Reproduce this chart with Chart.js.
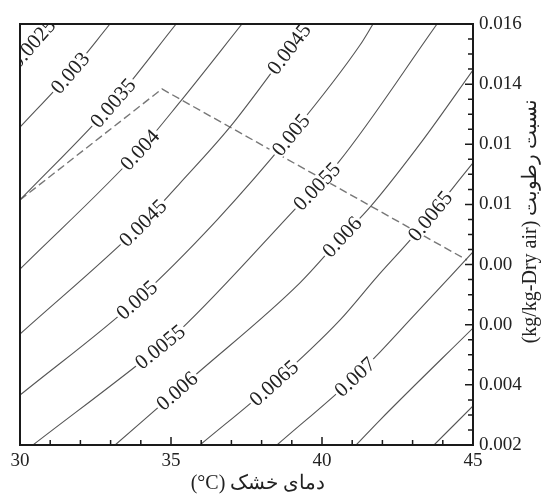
<!DOCTYPE html>
<html>
<head>
<meta charset="utf-8">
<script src="https://cdn.jsdelivr.net/npm/chart.js@4.4.1/dist/chart.umd.min.js"></script>
<style>
  html, body { margin: 0; padding: 0; background: #fff; }
  #wrap { width: 542px; height: 496px; }
</style>
</head>
<body>
<div id="wrap"><canvas id="psyChart"></canvas></div>
<script>
// contour levels, in the same order as the curves below
const levels = ['0.0025', '0.003', '0.0035', '0.004', '0.0045', '0.005', '0.0055', '0.006', '0.0065', '0.007', '0.0075', '0.008'];

// curves: [dry bulb (°C), humidity ratio]
const c0025 = [[30, 0.01487], [30.99, 0.016]];
const c003  = [[30, 0.01257], [31.66, 0.01437], [32.98, 0.016]];
const c0035 = [[30, 0.01015], [33.08, 0.01337], [35.17, 0.016]];
const c004  = [[30, 0.00785], [33.97, 0.01181], [35.30, 0.01341], [37.35, 0.016]];
const c0045 = [[30, 0.00569], [34.07, 0.00938], [35.30, 0.01071], [36.95, 0.01257], [38.91, 0.01517], [39.54, 0.016]];
const c005  = [[30, 0.00366], [33.87, 0.00682], [36.52, 0.00948], [38.97, 0.01231], [41.26, 0.0153], [41.69, 0.016]];
const c0055 = [[30.43, 0.002], [34.64, 0.00526], [35.30, 0.00582], [39.17, 0.00991], [40.53, 0.01138], [43.81, 0.016]];
const c006  = [[33.15, 0.002], [35.73, 0.00426], [39.27, 0.00739], [40.66, 0.00892], [41.59, 0.00991], [43.34, 0.01214], [45, 0.01447]];
const c0065 = [[35.96, 0.002], [38.41, 0.00406], [40.60, 0.00616], [41.82, 0.00759], [43.01, 0.00892], [45, 0.01138]];
const c007  = [[38.51, 0.002], [41.09, 0.00426], [41.92, 0.00509], [42.91, 0.00616], [45, 0.00842]];
const c0075 = [[41.13, 0.002], [41.92, 0.00283], [45, 0.00589]];
const c008  = [[43.71, 0.002], [45, 0.0033]];
const curves = [c0025, c003, c0035, c004, c0045, c005, c0055, c006, c0065, c007, c0075, c008];

// dashed process path
const dashedPath = [[30, 0.01015], [34.70, 0.01384], [44.8, 0.00815]];

// dry bulb value where each level label sits on its curve
const labelSpots = [
  ['0.0025', 30.42], ['0.003', 31.66], ['0.0035', 33.08], ['0.004', 33.97],
  ['0.0045', 34.07], ['0.0045', 38.91], ['0.005', 33.87], ['0.005', 38.97],
  ['0.0055', 34.64], ['0.0055', 39.83], ['0.006', 35.20], ['0.006', 40.66],
  ['0.0065', 38.41], ['0.0065', 43.58], ['0.007', 41.09]
];

// right axis tick labels as printed (bottom to top)
const yTickLabels = ['0.002', '0.004', '0.00', '0.00', '0.01', '0.01', '0.014', '0.016'];

const xTitle = 'دمای خشک (\u200E°C)';
const yTitle = 'نسبت رطوبت (kg/kg-Dry air)';

const serif = '"Liberation Serif", "Times New Roman", serif';

const toPts = arr => arr.map(p => ({ x: p[0], y: p[1] }));

const datasets = curves.map((c, i) => ({
  label: levels[i],
  data: toPts(c),
  borderColor: '#555',
  borderWidth: 1.1,
  pointRadius: 0,
  cubicInterpolationMode: 'monotone',
  fill: false
}));
datasets.push({
  label: 'path',
  data: toPts(dashedPath),
  borderColor: '#777',
  borderWidth: 1.4,
  borderDash: [8, 4],
  pointRadius: 0,
  tension: 0,
  fill: false
});

const bez = (p, t) => {
  const u = 1 - t;
  return u * u * u * p[0] + 3 * u * u * t * p[1] + 3 * u * t * t * p[2] + t * t * t * p[3];
};
const dbez = (p, t) => {
  const u = 1 - t;
  return 3 * u * u * (p[1] - p[0]) + 6 * u * t * (p[2] - p[1]) + 3 * t * t * (p[3] - p[2]);
};

// level labels written along the curves
const contourLabels = {
  id: 'contourLabels',
  afterDatasetsDraw(chart) {
    const { ctx, chartArea: a, scales: { x } } = chart;
    ctx.save();
    ctx.beginPath();
    ctx.rect(a.left, a.top, a.right - a.left, a.bottom - a.top);
    ctx.clip();
    ctx.font = '21px ' + serif;
    ctx.textAlign = 'center';
    ctx.textBaseline = 'middle';
    labelSpots.forEach(([lvl, vx]) => {
      const pts = chart.getDatasetMeta(levels.indexOf(lvl)).data;
      const px = x.getPixelForValue(vx);
      let i = 0;
      while (i < pts.length - 2 && pts[i + 1].x < px) i++;
      const p0 = pts[i], p1 = pts[i + 1];
      const X = [p0.x, p0.cp2x ?? p0.x, p1.cp1x ?? p1.x, p1.x];
      const Y = [p0.y, p0.cp2y ?? p0.y, p1.cp1y ?? p1.y, p1.y];
      let lo = 0, hi = 1;
      for (let k = 0; k < 40; k++) {
        const m = (lo + hi) / 2;
        if (bez(X, m) < px) lo = m; else hi = m;
      }
      const t = (lo + hi) / 2;
      const cx = bez(X, t), cy = bez(Y, t);
      const ang = Math.atan2(dbez(Y, t), dbez(X, t));
      const w = ctx.measureText(lvl).width;
      ctx.save();
      ctx.translate(cx, cy);
      ctx.rotate(ang);
      ctx.fillStyle = '#fff';
      ctx.fillRect(-w / 2 - 2, -7.5, w + 4, 15);
      ctx.fillStyle = '#222';
      ctx.fillText(lvl, 0, 1);
      ctx.restore();
    });
    ctx.restore();
  }
};

// frame, inward ticks and the two axis titles
const frameTicks = {
  id: 'frameTicks',
  afterDraw(chart) {
    const { ctx, chartArea: a, scales: { x, y } } = chart;
    ctx.save();
    ctx.strokeStyle = '#1a1a1a';
    ctx.lineWidth = 2;
    ctx.strokeRect(a.left, a.top, a.right - a.left, a.bottom - a.top);

    ctx.beginPath();
    ctx.lineWidth = 1.5;
    for (let v = 30; v <= 45; v++) {
      const px = x.getPixelForValue(v);
      ctx.moveTo(px, a.bottom);
      ctx.lineTo(px, a.bottom - (v % 5 === 0 ? 8 : 5));
    }
    for (let k = 0; k <= 28; k++) {
      const py = y.getPixelForValue(0.002 + k * 0.0005);
      ctx.moveTo(a.right, py);
      ctx.lineTo(a.right - (k % 4 === 0 ? 8 : 5), py);
    }
    ctx.stroke();

    ctx.fillStyle = '#222';
    ctx.font = '20px ' + serif;
    ctx.direction = 'rtl';
    ctx.textAlign = 'center';
    ctx.textBaseline = 'middle';
    ctx.fillText(xTitle, 258, 484);
    ctx.translate(531, 221);
    ctx.rotate(-Math.PI / 2);
    ctx.fillText(yTitle, 0, 0);
    ctx.restore();
  }
};

new Chart(document.getElementById('psyChart').getContext('2d'), {
  type: 'line',
  data: { datasets: datasets },
  options: {
    responsive: true,
    maintainAspectRatio: false,
    animation: false,
    layout: { padding: { left: 20, top: 24, right: 0, bottom: 0 } },
    scales: {
      x: {
        type: 'linear',
        min: 30,
        max: 45,
        grid: { display: false, drawTicks: false },
        border: { display: false },
        ticks: { stepSize: 5, padding: 5, maxRotation: 0, color: '#222', font: { family: serif, size: 19 } },
        afterFit(s) { s.height = 51; }
      },
      y: {
        type: 'linear',
        position: 'right',
        min: 0.002,
        max: 0.016,
        grid: { display: false, drawTicks: false },
        border: { display: false },
        ticks: {
          stepSize: 0.002,
          padding: 6,
          color: '#222',
          font: { family: serif, size: 19 },
          callback: v => yTickLabels[Math.round((v - 0.002) / 0.002)]
        },
        afterFit(s) { s.width = 69; }
      }
    },
    plugins: {
      legend: { display: false },
      tooltip: { enabled: false }
    }
  },
  plugins: [contourLabels, frameTicks]
});
</script>
</body>
</html>
